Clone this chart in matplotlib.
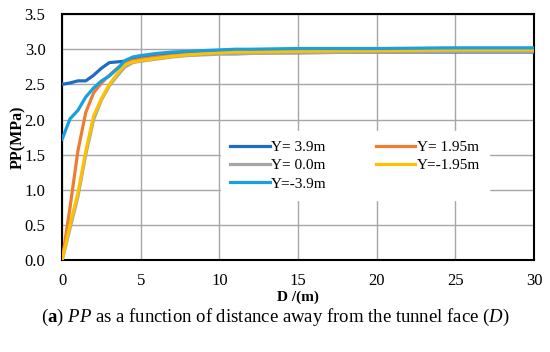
import matplotlib.pyplot as plt

plt.rcParams['font.family'] = ['Liberation Serif', 'DejaVu Serif']
plt.rcParams['mathtext.fontset'] = 'custom'
plt.rcParams['mathtext.rm'] = 'Liberation Serif'
plt.rcParams['mathtext.it'] = 'Liberation Serif:italic'
plt.rcParams['mathtext.bf'] = 'Liberation Serif:bold'

d = [0, 0.5, 1, 1.5, 2, 2.5, 3, 3.5, 4, 4.5, 5, 6, 7, 8, 9, 10, 11, 12, 15, 20, 25, 30]

y_p39 = [2.50, 2.52, 2.55, 2.55, 2.63, 2.73, 2.81, 2.82, 2.83, 2.87, 2.89, 2.91, 2.93,
         2.94, 2.95, 2.95, 2.95, 2.95, 2.95, 2.96, 2.96, 2.96]
y_p195 = [0.0, 0.75, 1.55, 2.10, 2.38, 2.52, 2.63, 2.73, 2.80, 2.84, 2.86, 2.89, 2.91,
          2.93, 2.94, 2.95, 2.95, 2.96, 2.96, 2.96, 2.97, 2.97]
y_0 = [0.0, 0.45, 0.90, 1.50, 2.00, 2.28, 2.48, 2.62, 2.75, 2.81, 2.83, 2.86, 2.89,
       2.91, 2.92, 2.93, 2.93, 2.94, 2.95, 2.96, 2.97, 2.97]
y_m195 = [0.0, 0.50, 0.95, 1.55, 2.05, 2.30, 2.50, 2.65, 2.78, 2.82, 2.84, 2.87, 2.90,
          2.92, 2.94, 2.95, 2.96, 2.96, 2.97, 2.98, 2.99, 2.99]
y_m39 = [1.72, 2.01, 2.13, 2.32, 2.45, 2.55, 2.62, 2.72, 2.84, 2.89, 2.91, 2.94, 2.96,
         2.97, 2.98, 2.99, 3.00, 3.00, 3.01, 3.01, 3.02, 3.02]

labels = ['Y= 3.9m', 'Y= 1.95m', 'Y= 0.0m', 'Y=-1.95m', 'Y=-3.9m']
colors = ['#1F6CC4', '#ED7D31', '#A5A5A5', '#FFC000', '#18A0E0']
series = [y_p39, y_p195, y_0, y_m195, y_m39]

fig = plt.figure(figsize=(5.5, 3.52), dpi=100)
ax = fig.add_axes([0.113, 0.261, 0.858, 0.699])

# draw back-to-front so the order at the right end looks like the original
lines = {}
for i in [4, 3, 2, 1, 0]:
    lines[i], = ax.plot(d, series[i], color=colors[i], lw=2.3, label=labels[i],
                        zorder=3 + i * 0.1)

ax.set_xlim(0, 30)
ax.set_ylim(0, 3.5)
ax.set_xticks(range(0, 31, 5))
ax.set_yticks([i * 0.5 for i in range(8)])
ax.set_yticklabels(['%.1f' % (i * 0.5) for i in range(8)])
ax.tick_params(length=0, labelsize=12)
ax.tick_params(axis='y', pad=12)
ax.tick_params(axis='x', pad=9)
ax.grid(True, color='#A6A6A6', lw=1.0)
ax.set_axisbelow(True)
for s in ax.spines.values():
    s.set_color('black')
    s.set_linewidth(1.5)

ax.set_xlabel('D /(m)', fontsize=11, fontweight='bold', labelpad=1)
ax.set_ylabel('PP(MPa)', fontsize=11.5, fontweight='bold', labelpad=-1)

# legend fills column-wise: col1 = 3.9, 0.0, -3.9 ; col2 = 1.95, -1.95
leg_order = [0, 2, 4, 1, 3]
leg = ax.legend([lines[k] for k in leg_order], [labels[k] for k in leg_order],
                ncol=2, loc='upper left', bbox_to_anchor=(0.32, 0.555),
                frameon=True, fancybox=False, edgecolor='white', framealpha=1,
                fontsize=11, handlelength=2.6, handletextpad=0.1, columnspacing=3.2,
                labelspacing=0.3, borderpad=0.6)
leg.set_zorder(10)

fig.text(0.5, 0.097, r'($\mathbf{a}$) $\mathit{PP}$ as a function of distance away from the tunnel face ($\mathit{D}$)',
         ha='center', va='center', fontsize=13.5)

fig.savefig('out.png', dpi=100)
